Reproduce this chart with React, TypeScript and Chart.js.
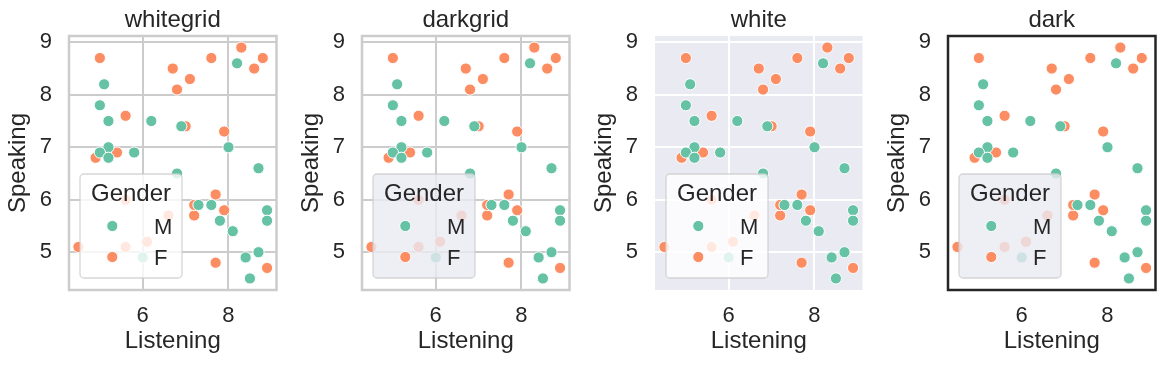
import React, { useEffect, useRef } from "react";
import { Chart, registerables } from "chart.js";

Chart.register(...registerables);

// ---------- data ----------
const panelTitles = ["whitegrid", "darkgrid", "white", "dark"];
const hueLabels = ["M", "F"];
const legendTitle = "Gender";
const xLabel = "Listening";
const yLabel = "Speaking";
const xTicks = [6, 8];
const yTicks = [5, 6, 7, 8, 9];

const listeningM = [5.1, 8.2, 5.0, 5.2, 6.2, 6.9, 5.2, 5.0, 5.2, 5.8, 8.0, 8.7, 6.8, 7.3, 7.6, 7.8, 8.1, 8.9, 8.9, 6.0, 8.4, 8.7, 8.5];
const speakingM = [8.2, 8.6, 7.8, 7.5, 7.5, 7.4, 7.0, 6.9, 6.8, 6.9, 7.0, 6.6, 6.5, 5.9, 5.9, 5.6, 5.4, 5.8, 5.6, 4.9, 4.9, 5.0, 4.5];
const listeningF = [5.0, 6.7, 7.6, 8.3, 8.8, 8.6, 7.1, 6.8, 5.6, 7.0, 7.9, 5.4, 4.9, 7.7, 7.9, 7.2, 7.2, 5.6, 6.6, 4.5, 5.6, 6.1, 7.7, 8.9];
const speakingF = [8.7, 8.5, 8.7, 8.9, 8.7, 8.5, 8.3, 8.1, 7.6, 7.4, 7.3, 6.9, 6.8, 6.1, 5.8, 5.7, 5.9, 6.0, 5.7, 5.1, 5.1, 5.2, 4.8, 4.7];

// ---------- styling ----------
const FONT = '"Liberation Sans", Arial, "DejaVu Sans", sans-serif';
const TEXT = "#262626";
const HUE_COLORS = ["#66c2a5", "#fc8d62"];

type PanelStyle = {
  bg: string;
  grid: string | null;
  spine: string | null;
  spineWidth: number;
  legendBg: string;
};

const PANEL_STYLES: PanelStyle[] = [
  { bg: "#ffffff", grid: "#cccccc", spine: "#cccccc", spineWidth: 2.5, legendBg: "rgba(255,255,255,0.8)" },
  { bg: "#ffffff", grid: "#cccccc", spine: "#cccccc", spineWidth: 2.5, legendBg: "rgba(234,234,242,0.8)" },
  { bg: "#eaeaf2", grid: "#ffffff", spine: null, spineWidth: 0, legendBg: "rgba(255,255,255,0.8)" },
  { bg: "#ffffff", grid: null, spine: "#262626", spineWidth: 2.5, legendBg: "rgba(234,234,242,0.8)" },
];

const CANVAS_W = 285;
const CANVAS_H = 366;
const PANEL_LEFT = [0, 293, 586, 879];
const AREA_LEFT = 69;
const AREA_RIGHT = 276.5;
const AREA_TOP = 36;
const X_AXIS_H = 76;
const MARKER_R = 5.6;

function limits(vals: number[]): [number, number] {
  const lo = Math.min(...vals);
  const hi = Math.max(...vals);
  const m = (hi - lo) * 0.05;
  return [lo - m, hi + m];
}

function Panel({ index }: { index: number }) {
  const ref = useRef<HTMLCanvasElement | null>(null);

  useEffect(() => {
    const st = PANEL_STYLES[index];
    const [xmin, xmax] = limits([...listeningM, ...listeningF]);
    const [ymin, ymax] = limits([...speakingM, ...speakingF]);

    const bgPlugin = {
      id: "bgFill",
      beforeDraw(chart: any) {
        const { ctx, chartArea: ca } = chart;
        ctx.save();
        ctx.fillStyle = st.bg;
        ctx.fillRect(ca.left, ca.top, ca.right - ca.left, ca.bottom - ca.top);
        ctx.restore();
      },
    };

    const spinePlugin = {
      id: "spines",
      afterDatasetsDraw(chart: any) {
        if (!st.spine) return;
        const { ctx, chartArea: ca } = chart;
        ctx.save();
        ctx.strokeStyle = st.spine;
        ctx.lineWidth = st.spineWidth;
        ctx.strokeRect(ca.left, ca.top, ca.right - ca.left, ca.bottom - ca.top);
        ctx.restore();
      },
    };

    const titlePlugin = {
      id: "axesTitle",
      afterDraw(chart: any) {
        const { ctx, chartArea: ca } = chart;
        ctx.save();
        ctx.fillStyle = TEXT;
        ctx.font = `24px ${FONT}`;
        ctx.textAlign = "center";
        ctx.textBaseline = "alphabetic";
        ctx.fillText(panelTitles[index], (ca.left + ca.right) / 2, ca.top - 8.7);
        ctx.restore();
      },
    };

    const legendPlugin = {
      id: "innerLegend",
      afterDraw(chart: any) {
        const { ctx, chartArea: ca } = chart;
        const x0 = ca.left + 11;
        const y0 = ca.bottom - 116;
        const w = 102;
        const h = 104;
        ctx.save();
        ctx.beginPath();
        ctx.roundRect(x0, y0, w, h, 4);
        ctx.fillStyle = st.legendBg;
        ctx.fill();
        ctx.strokeStyle = "rgba(204,204,204,0.8)";
        ctx.lineWidth = 1.3;
        ctx.stroke();

        ctx.fillStyle = TEXT;
        ctx.font = `24px ${FONT}`;
        ctx.textAlign = "center";
        ctx.textBaseline = "alphabetic";
        ctx.fillText(legendTitle, x0 + w / 2, y0 + 27);

        const rowsY = [y0 + 52, y0 + 83];
        hueLabels.forEach((lab, i) => {
          const cy = rowsY[i];
          ctx.beginPath();
          ctx.arc(x0 + 32.3, cy, MARKER_R, 0, Math.PI * 2);
          ctx.fillStyle = HUE_COLORS[i];
          ctx.fill();
          ctx.strokeStyle = "#ffffff";
          ctx.lineWidth = 1;
          ctx.stroke();
          ctx.fillStyle = TEXT;
          ctx.font = `22px ${FONT}`;
          ctx.textAlign = "left";
          ctx.fillText(lab, x0 + 74, cy + 8);
        });
        ctx.restore();
      },
    };

    const gridOpts = st.grid
      ? { display: true, color: st.grid, lineWidth: 2, drawTicks: false, tickLength: 0 }
      : { display: false, drawTicks: false, tickLength: 0 };

    const chart = new Chart(ref.current as HTMLCanvasElement, {
      type: "scatter",
      data: {
        datasets: [
          {
            label: hueLabels[0],
            data: listeningM.map((x, i) => ({ x, y: speakingM[i] })),
            backgroundColor: HUE_COLORS[0],
            borderColor: "#ffffff",
            borderWidth: 1,
            pointRadius: MARKER_R,
            pointHoverRadius: MARKER_R,
          },
          {
            label: hueLabels[1],
            data: listeningF.map((x, i) => ({ x, y: speakingF[i] })),
            backgroundColor: HUE_COLORS[1],
            borderColor: "#ffffff",
            borderWidth: 1,
            pointRadius: MARKER_R,
            pointHoverRadius: MARKER_R,
          },
        ],
      },
      options: {
        animation: false,
        responsive: false,
        devicePixelRatio: 1,
        events: [],
        layout: { padding: { left: 0, top: AREA_TOP, bottom: 0, right: CANVAS_W - AREA_RIGHT } },
        plugins: {
          legend: { display: false },
          tooltip: { enabled: false },
          title: { display: false },
        },
        scales: {
          x: {
            type: "linear",
            min: xmin,
            max: xmax,
            afterBuildTicks: (s: any) => {
              s.ticks = xTicks.map((v) => ({ value: v }));
            },
            afterFit: (s: any) => {
              s.height = X_AXIS_H;
            },
            grid: gridOpts as any,
            border: { display: false },
            ticks: {
              color: TEXT,
              padding: 13.2,
              font: { family: FONT, size: 22 },
              callback: (v: any) => String(v),
            },
            title: {
              display: true,
              text: xLabel,
              color: TEXT,
              font: { family: FONT, size: 24, lineHeight: 1.2 },
              padding: { top: 0, bottom: 9.9 },
            },
          },
          y: {
            type: "linear",
            min: ymin,
            max: ymax,
            afterBuildTicks: (s: any) => {
              s.ticks = yTicks.map((v) => ({ value: v }));
            },
            afterFit: (s: any) => {
              s.width = AREA_LEFT;
            },
            grid: gridOpts as any,
            border: { display: false },
            ticks: {
              color: TEXT,
              padding: 17,
              font: { family: FONT, size: 22 },
              callback: (v: any) => String(v),
            },
            title: {
              display: true,
              text: yLabel,
              color: TEXT,
              font: { family: FONT, size: 24, lineHeight: 1.2 },
              padding: { top: 3.8, bottom: 0 },
            },
          },
        },
      },
      plugins: [bgPlugin, spinePlugin, legendPlugin, titlePlugin],
    } as any);

    return () => chart.destroy();
  }, [index]);

  return (
    <canvas
      ref={ref}
      width={CANVAS_W}
      height={CANVAS_H}
      style={{ position: "absolute", left: PANEL_LEFT[index], top: 0, width: CANVAS_W, height: CANVAS_H }}
    />
  );
}

export default function App() {
  return (
    <div
      style={{
        position: "fixed",
        left: 0,
        top: 0,
        width: 1165,
        height: 366,
        background: "#ffffff",
        overflow: "hidden",
      }}
    >
      {panelTitles.map((_, i) => (
        <Panel key={i} index={i} />
      ))}
    </div>
  );
}
